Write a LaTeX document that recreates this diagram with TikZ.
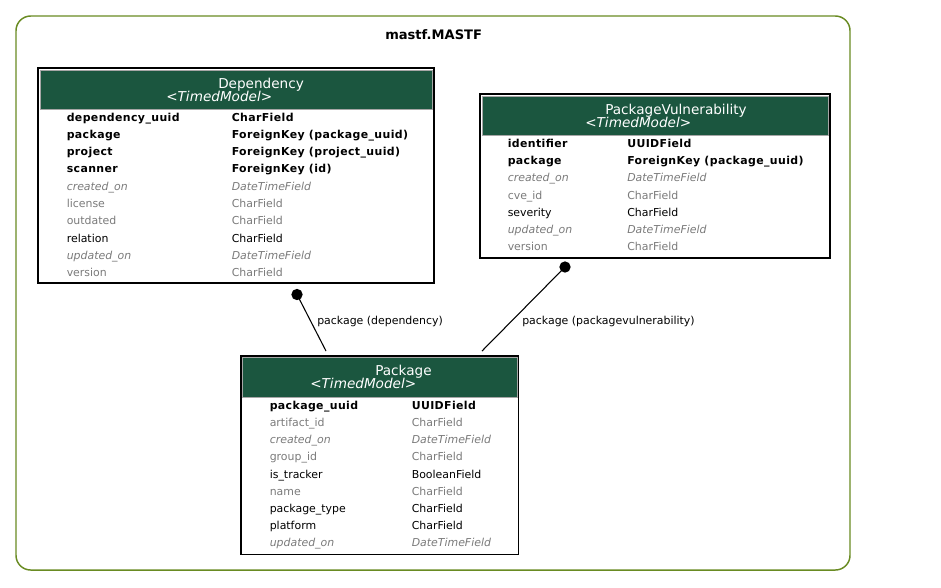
\documentclass[tikz,border=0pt]{standalone}
\usepackage{fontspec}
\setmainfont{DejaVu Sans}
\newfontfamily\keyfont[LetterSpace=3.5]{DejaVu Sans Bold}
\usetikzlibrary{fit}
\definecolor{headgreen}{HTML}{1B563F}
\definecolor{clusterolive}{HTML}{698B22}
\definecolor{fieldgray}{HTML}{7B7B7B}
\newcommand{\rowfont}{\fontsize{8.2}{10}\selectfont}
\newcommand{\headfont}{\fontsize{10.2}{12}\selectfont}

\begin{document}
\begin{tikzpicture}[x=0.75pt, y=-0.75pt,
    table/.style={draw=black, line width=0.9pt, fill=white, inner sep=0pt},
    header/.style={fill=headgreen, draw=gray!70, line width=0.6pt},
    headtext/.style={anchor=base west, inner sep=0pt, text=white, font=\headfont},
    keyfield/.style={anchor=base west, inner sep=0pt, font=\rowfont\keyfont},
    plainfield/.style={anchor=base west, inner sep=0pt, font=\rowfont},
    fadedfield/.style={anchor=base west, inner sep=0pt, font=\rowfont, text=fieldgray},
    inheritfield/.style={anchor=base west, inner sep=0pt, font=\rowfont\itshape, text=fieldgray},
    dot/.style={circle, fill=black, inner sep=0pt, minimum size=8.5pt},
    edgelabel/.style={anchor=base west, inner sep=0pt, font=\rowfont}]
        \useasboundingbox (0,0) rectangle (941,587);

        % Draw the cluster frame
        \draw[clusterolive, line width=1.1pt, rounded corners=11pt] (16,16) rectangle (850,570);
        \node[anchor=base west, inner sep=0pt, font=\fontsize{9.8}{12}\selectfont\bfseries] (cluster-title) at (385,39) {mastf.MASTF};

        % Draw the Dependency table
        \node[table, fit={(38,68) (434,283)}] (dep) {};
        \draw[header] (40,70) rectangle (432.5,109);
        \node[headtext] (dep-title) at (218,88.5) {Dependency};
        \node[headtext] (dep-base) at (166,101) {\itshape <TimedModel>};
        \foreach \fname/\ftype/\fstyle [count=\i from 0] in {
            dependency\_uuid/CharField/keyfield,
            package/ForeignKey (package\_uuid)/keyfield,
            project/ForeignKey (project\_uuid)/keyfield,
            scanner/ForeignKey (id)/keyfield,
            created\_on/DateTimeField/inheritfield,
            license/CharField/fadedfield,
            outdated/CharField/fadedfield,
            relation/CharField/plainfield,
            updated\_on/DateTimeField/inheritfield,
            version/CharField/fadedfield} {
            \node[\fstyle] (dep-name-\i) at (66.5, 121+17.3*\i) {\fname};
            \node[\fstyle] (dep-type-\i) at (231.5, 121+17.3*\i) {\ftype};
        }

        % Draw the PackageVulnerability table
        \node[table, fit={(480,94) (830,258)}] (vuln) {};
        \draw[header] (482,96) rectangle (828.5,135);
        \node[headtext] (vuln-title) at (605,114.5) {PackageVulnerability};
        \node[headtext] (vuln-base) at (585,127) {\itshape <TimedModel>};
        \foreach \fname/\ftype/\fstyle [count=\i from 0] in {
            identifier/UUIDField/keyfield,
            package/ForeignKey (package\_uuid)/keyfield,
            created\_on/DateTimeField/inheritfield,
            cve\_id/CharField/fadedfield,
            severity/CharField/plainfield,
            updated\_on/DateTimeField/inheritfield,
            version/CharField/fadedfield} {
            \node[\fstyle] (vuln-name-\i) at (507.5, 147+17.33*\i) {\fname};
            \node[\fstyle] (vuln-type-\i) at (627, 147+17.33*\i) {\ftype};
        }

        % Draw the Package table
        \node[table, fit={(241,356) (518.5,554.5)}] (pkg) {};
        \draw[header] (242.5,357.5) rectangle (517,397);
        \node[headtext] (pkg-title) at (375,375.5) {Package};
        \node[headtext] (pkg-base) at (310,388.5) {\itshape <TimedModel>};
        \foreach \fname/\ftype/\fstyle [count=\i from 0] in {
            package\_uuid/UUIDField/keyfield,
            artifact\_id/CharField/fadedfield,
            created\_on/DateTimeField/inheritfield,
            group\_id/CharField/fadedfield,
            is\_tracker/BooleanField/plainfield,
            name/CharField/fadedfield,
            package\_type/CharField/plainfield,
            platform/CharField/plainfield,
            updated\_on/DateTimeField/inheritfield} {
            \node[\fstyle] (pkg-name-\i) at (269.5, 409.3+17.2*\i) {\fname};
            \node[\fstyle] (pkg-type-\i) at (411.5, 409.3+17.2*\i) {\ftype};
        }

        % Draw the relations between the tables
        \node[dot] (dep-end) at (297,294.5) {};
        \node[dot] (vuln-end) at (565,267) {};
        \coordinate (pkg-in-dep) at (326,351);
        \coordinate (pkg-in-vuln) at (482,351);
        \draw[line width=0.8pt] (dep-end.center) -- (pkg-in-dep);
        \draw[line width=0.8pt] (vuln-end.center) -- (pkg-in-vuln);
        \node[edgelabel] (dep-label) at (317,324) {package (dependency)};
        \node[edgelabel] (vuln-label) at (522,324) {package (packagevulnerability)};
    \end{tikzpicture}
\end{document}
